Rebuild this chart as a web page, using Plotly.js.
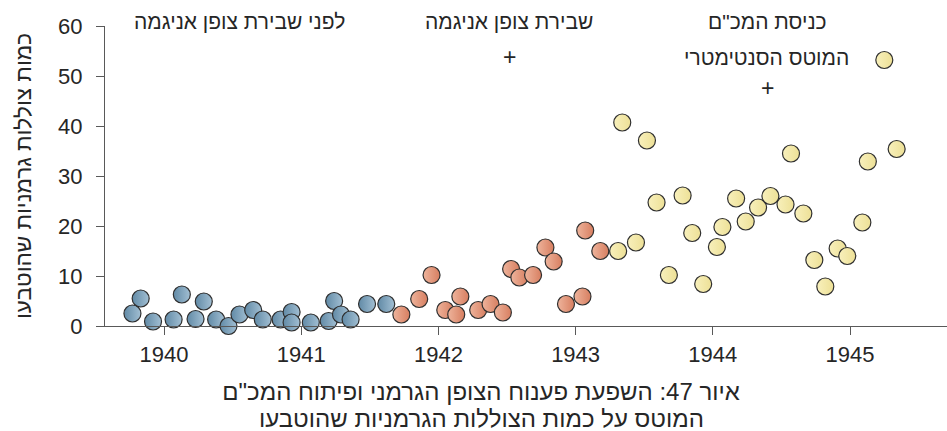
<!DOCTYPE html>
<html>
<head>
<meta charset="utf-8">
<script src="https://cdn.plot.ly/plotly-3.0.1.min.js"></script>
<style>html,body{margin:0;padding:0;background:#fff;}#chart{width:947px;height:431px;}</style>
</head>
<body>
<div id="chart"></div>
<script>
// Data (year, sunk submarines)
const beforeX = [1939.77,1939.83,1939.92,1940.07,1940.13,1940.23,1940.29,1940.38,1940.47,1940.55,1940.65,1940.72,1940.85,1940.93,1940.93,1941.07,1941.20,1941.24,1941.29,1941.36,1941.48,1941.62];
const beforeY = [2.5,5.5,0.9,1.3,6.3,1.4,4.9,1.3,0.0,2.3,3.2,1.3,1.3,2.8,0.7,0.7,1.0,5.0,2.3,1.3,4.4,4.4];
const breakX = [1941.73,1941.86,1941.95,1942.05,1942.13,1942.16,1942.29,1942.38,1942.47,1942.53,1942.59,1942.69,1942.78,1942.84,1942.93,1943.05,1943.07,1943.18];
const breakY = [2.3,5.4,10.2,3.2,2.3,5.9,3.2,4.4,2.7,11.4,9.7,10.2,15.7,12.9,4.4,5.9,19.1,15.0];
const radarX = [1943.31,1943.34,1943.44,1943.52,1943.59,1943.68,1943.78,1943.85,1943.93,1944.03,1944.07,1944.17,1944.24,1944.33,1944.42,1944.53,1944.57,1944.66,1944.74,1944.82,1944.91,1944.98,1945.09,1945.13,1945.25,1945.34];
const radarY = [15.0,40.7,16.7,37.1,24.7,10.2,26.1,18.6,8.4,15.8,19.8,25.5,20.9,23.7,26.0,24.3,34.5,22.5,13.2,7.9,15.5,14.0,20.7,32.9,53.2,35.4];
const yTicks = [0,10,20,30,40,50,60];
const xTicks = [1940,1941,1942,1943,1944,1945];
const xTickLabels = ['1940','1941','1942','1943','1944','1945'];
const labelBefore = 'לפני שבירת צופן אניגמה';
const labelBreak = 'שבירת צופן אניגמה';
const labelRadar1 = 'כניסת המכ"ם';
const labelRadar2 = 'המוטס הסנטימטרי';
const yTitle = 'כמות צוללות גרמניות שהוטבעו';
const captionLine1 = 'איור 47: השפעת פענוח הצופן הגרמני ופיתוח המכ"ם';
const captionLine2 = 'המוטס על כמות הצוללות הגרמניות שהוטבעו';

const FONT = '"Liberation Sans Narrow", "Liberation Sans", "DejaVu Sans", sans-serif';
const TXT = '#262626';

function tr(x, y, c1, c2) {
  return {
    x: x, y: y, type: 'scatter', mode: 'markers', cliponaxis: false, hoverinfo: 'skip',
    marker: {size: 17, color: c1, gradient: {type: 'horizontal', color: c2},
             line: {color: '#2f2f2f', width: 1.2}},
    showlegend: false
  };
}

const data = [
  tr(beforeX, beforeY, '#618aa6', '#a2bfd3'),
  tr(breakX, breakY, '#eeb49c', '#d77e60'),
  tr(radarX, radarY, '#f8f0bc', '#ede096')
];

const annFont = {family: FONT, size: 21, color: TXT};
function ann(text, xv, ypx, size) {
  return {text: text, x: xv, xref: 'x', y: (326 - ypx) / 300, yref: 'paper',
          showarrow: false, xanchor: 'center', yanchor: 'middle',
          font: {family: FONT, size: size || 21, color: TXT}};
}

const layout = {
  width: 947, height: 431,
  margin: {l: 105, r: 0, t: 26, b: 105},
  paper_bgcolor: '#fff', plot_bgcolor: '#fff',
  font: {family: FONT, size: 20, color: TXT},
  title: {text: captionLine1, x: 0.508, xref: 'container', xanchor: 'center',
          y: (431 - 392) / 431, yref: 'container', yanchor: 'middle',
          font: {family: FONT, size: 24, color: TXT}},
  xaxis: {range: [1939.57, 1945.707], tickvals: xTicks, ticktext: xTickLabels,
          showgrid: false, zeroline: false, showline: true, linecolor: '#595959', linewidth: 1,
          ticks: 'outside', ticklen: 8, tickcolor: '#595959', ticklabelstandoff: 1,
          tickfont: {family: FONT, size: 22, color: TXT}, fixedrange: true},
  yaxis: {range: [0, 60], tickvals: yTicks, showgrid: false, zeroline: false,
          showline: true, linecolor: '#595959', linewidth: 1,
          ticks: 'outside', ticklen: 8, tickcolor: '#595959', ticklabelstandoff: 9,
          tickfont: {family: FONT, size: 22, color: TXT},
          title: {text: yTitle, standoff: 20, font: {family: FONT, size: 22.5, color: TXT}},
          fixedrange: true},
  annotations: [
    ann(labelBefore, 1940.547, 22),
    ann(labelBreak, 1942.515, 22),
    ann('+', 1942.515, 57, 23),
    ann(labelRadar1, 1944.402, 22),
    ann(labelRadar2, 1944.39, 57),
    ann('+', 1944.402, 88, 23),
    {text: captionLine2, x: (481 - 105) / 842, xref: 'paper', y: (326 - 418) / 300, yref: 'paper',
     showarrow: false, xanchor: 'center', yanchor: 'middle',
     font: {family: FONT, size: 24, color: TXT}}
  ]
};

Plotly.newPlot('chart', data, layout, {displayModeBar: false, staticPlot: true});
</script>
</body>
</html>
